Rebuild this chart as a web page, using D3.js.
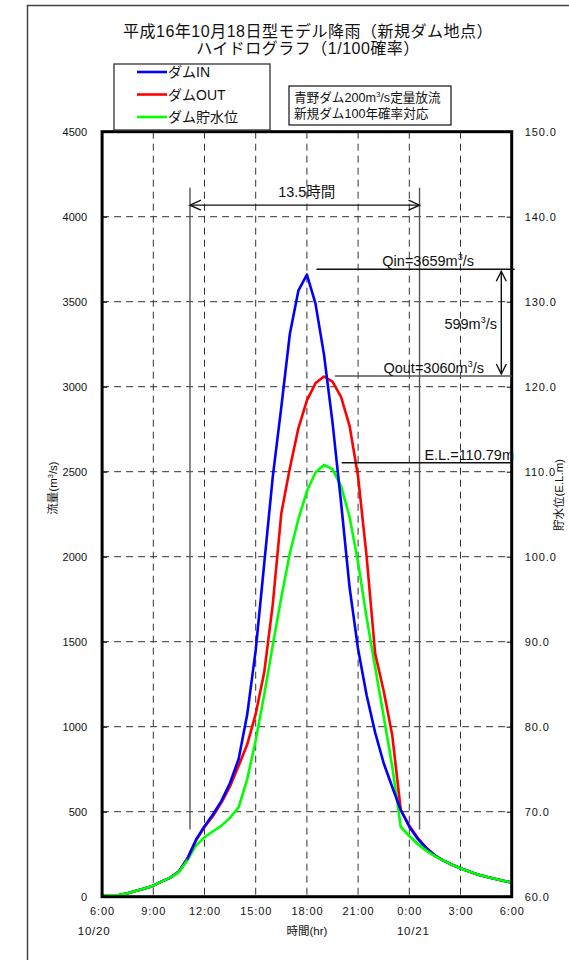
<!DOCTYPE html>
<html><head><meta charset="utf-8">
<script src="https://d3js.org/d3.v7.min.js"></script>
<style>
html,body{margin:0;padding:0;background:#fff;}
svg{display:block;}
text{font-family:"Liberation Sans",Arial,"Noto Sans CJK JP",sans-serif;fill:#111;}
</style></head><body>
<svg id="c" width="569" height="960"></svg>
<script>
// ---- data ----
const hours = [0,0.5,1,1.5,2,2.5,3,3.5,4,4.5,5,5.5,6,6.5,7,7.5,8,8.5,9,9.5,10,10.5,11,11.5,12,12.5,13,13.5,14,14.5,15,15.5,16,16.5,17,17.5,18,18.5,19,19.5,20,20.5,21,21.5,22,22.5,23,23.5,24];
const inflow = [8,8,10,20,35,48,65,90,112,148,225,335,415,485,565,670,810,1070,1450,1960,2470,2880,3310,3565,3659,3490,3190,2790,2320,1820,1455,1185,965,785,645,510,412,340,285,242,212,188,167,148,131,118,106,94,83];
const outflow = [8,8,10,20,35,48,65,90,112,148,225,330,410,475,555,650,770,895,1075,1320,1720,2255,2520,2755,2920,3020,3060,3030,2940,2770,2470,2000,1430,1210,950,510,418,345,288,243,212,188,167,148,131,118,106,94,83];
const level = [60.16,60.16,60.2,60.4,60.7,60.96,61.3,61.8,62.24,62.9,64.3,66.0,67.0,67.7,68.36,69.3,70.5,73.8,78.4,83.8,89.6,95.2,100.4,104.4,107.7,109.9,110.79,110.3,108.3,104.7,99.3,92.8,87.0,81.2,75.3,68.2,67.14,66.2,65.42,64.78,64.24,63.76,63.34,62.96,62.62,62.36,62.12,61.88,61.66];
const timeTicks = [0,3,6,9,12,15,18,21,24];
const timeTickLabels = ["6:00","9:00","12:00","15:00","18:00","21:00","0:00","3:00","6:00"];
const dateHours = [0,18];
const dateLabels = ["10/20","10/21"];
const flowTicks = [0,500,1000,1500,2000,2500,3000,3500,4000,4500];
const levelTicks = [60,70,80,90,100,110,120,130,140,150];
const seriesNames = ["ダムIN","ダムOUT","ダム貯水位"];
const seriesColors = ["#0000ff","#ff0000","#00ff00"];
const titleLines = ["平成16年10月18日型モデル降雨（新規ダム地点）","ハイドログラフ（1/100確率）"];
const noteLines = [[["青野ダム200m",0],["3",1],["/s定量放流",0]],[["新規ダム100年確率対応",0]]];
// annotation values
const spanHours = [5.15, 18.6];
const qinPeak = 3659, qoutPeak = 3060, elPeak = 110.79, diffQ = 599;

// ---- layout ----
const svg = d3.select("#c");
const L = 102.1, R = 511.7, T = 131.7, B = 896.7;
const x = d3.scaleLinear().domain([0,24]).range([L,R]);
const y = d3.scaleLinear().domain([0,4500]).range([B,T]);
const yR = d3.scaleLinear().domain([60,150]).range([B,T]);

// outer frame
svg.append("path").attr("d","M27.5,960 L27.5,5.5 L569,5.5").attr("fill","none").attr("stroke","#444").attr("stroke-width",1.5);

// title
svg.append("g").selectAll("text").data(titleLines).join("text")
  .attr("x",308).attr("y",(d,i)=>37+i*17).attr("text-anchor","middle")
  .attr("font-size",16).attr("letter-spacing","0.5px").attr("font-family","'Noto Sans CJK JP',sans-serif").text(d=>d);

// grid
const grid = svg.append("g").attr("stroke","#333").attr("stroke-width",1).attr("stroke-dasharray","7,5");
grid.selectAll("line.h").data(flowTicks.filter(v=>v>0&&v<4500)).join("line")
  .attr("x1",L).attr("x2",R).attr("y1",d=>y(d)).attr("y2",d=>y(d));
grid.selectAll("line.v").data(timeTicks.filter(v=>v>0&&v<24)).join("line")
  .attr("y1",T).attr("y2",B).attr("x1",d=>x(d)).attr("x2",d=>x(d));

// axes
const axL = svg.append("g").attr("transform",`translate(${L},0)`)
  .call(d3.axisLeft(y).tickValues(flowTicks).tickSize(-5).tickPadding(15).tickFormat(d3.format("d")));
const axR = svg.append("g").attr("transform",`translate(${R},0)`)
  .call(d3.axisRight(yR).tickValues(levelTicks).tickSize(-5).tickPadding(13).tickFormat(d3.format(".1f")));
const axB = svg.append("g").attr("transform",`translate(0,${B})`)
  .call(d3.axisBottom(x).tickValues(timeTicks).tickSize(0).tickPadding(11).tickFormat((d,i)=>timeTickLabels[i]));
[axL,axR,axB].forEach(a=>{a.select(".domain").remove();a.selectAll("text").attr("font-size",11).attr("fill","#222").attr("font-family","'Liberation Sans',Arial,sans-serif");a.selectAll("line").attr("stroke","#000");});
axR.selectAll("text").attr("letter-spacing","0.9px");
axB.selectAll("text").attr("letter-spacing","0.9px");

// date labels
svg.append("g").selectAll("text").data(dateLabels).join("text")
  .attr("x",(d,i)=>x(dateHours[i])+(i===0?-8:4)).attr("y",935).attr("text-anchor","middle")
  .attr("font-size",11.5).attr("letter-spacing","0.8px").attr("fill","#222").text(d=>d);
svg.append("text").attr("x",x(12)).attr("y",935).attr("text-anchor","middle").attr("font-size",11.5).attr("fill","#222")
  .attr("font-family","'Noto Sans CJK JP',sans-serif").text("時間(hr)");

// axis titles
const lt = svg.append("text").attr("transform","translate(57,488) rotate(-90)").attr("text-anchor","middle").attr("font-size",11.5).attr("fill","#222").attr("font-family","'Noto Sans CJK JP',sans-serif");
lt.append("tspan").text("流量(m");
lt.append("tspan").attr("dy",-4).attr("font-size",7.5).text("3");
lt.append("tspan").attr("dy",4).text("/s)");
svg.append("text").attr("transform","translate(563,495) rotate(-90)").attr("text-anchor","middle").attr("font-size",11.5).attr("fill","#222")
  .attr("font-family","'Noto Sans CJK JP',sans-serif").text("貯水位(E.L.m)");

// series
const lineFlow = d3.line().x((d,i)=>x(hours[i])).y(d=>y(d));
const lineLevel = d3.line().x((d,i)=>x(hours[i])).y(d=>yR(d));
svg.append("path").datum(level).attr("d",lineLevel).attr("fill","none").attr("stroke",seriesColors[2]).attr("stroke-width",2.6).attr("stroke-linejoin","round");
svg.append("path").datum(outflow).attr("d",lineFlow).attr("fill","none").attr("stroke",seriesColors[1]).attr("stroke-width",2.6).attr("stroke-linejoin","round");
svg.append("path").datum(inflow).attr("d",lineFlow).attr("fill","none").attr("stroke",seriesColors[0]).attr("stroke-width",2.6).attr("stroke-linejoin","round");
const defs = svg.append("defs");
const cp = defs.append("clipPath").attr("id","tails");
cp.append("rect").attr("x",x(0)).attr("y",T).attr("width",x(5)-x(0)).attr("height",B-T);
cp.append("rect").attr("x",x(18.2)).attr("y",T).attr("width",x(24)-x(18.2)+3).attr("height",B-T);
svg.append("path").datum(level).attr("d",lineLevel).attr("fill","none").attr("stroke",seriesColors[2]).attr("stroke-width",2.6).attr("stroke-linejoin","round")
  .attr("clip-path","url(#tails)");

// plot frame
svg.append("rect").attr("x",L).attr("y",T).attr("width",R-L).attr("height",B-T).attr("fill","none").attr("stroke","#000").attr("stroke-width",3);

// annotations
const ann = svg.append("g").attr("stroke","#555").attr("stroke-width",1.4).attr("fill","none");
spanHours.forEach(h=>{ann.append("line").attr("x1",x(h)).attr("x2",x(h)).attr("y1",y(4170)).attr("y2",y(395));});
const ay = y(4068);
ann.append("line").attr("x1",x(spanHours[0])).attr("x2",x(spanHours[1])).attr("y1",ay).attr("y2",ay).attr("stroke","#111");
ann.append("path").attr("d",`M${x(spanHours[0])+11},${ay-5} L${x(spanHours[0])},${ay} L${x(spanHours[0])+11},${ay+5}`).attr("stroke","#111");
ann.append("path").attr("d",`M${x(spanHours[1])-11},${ay-5} L${x(spanHours[1])},${ay} L${x(spanHours[1])-11},${ay+5}`).attr("stroke","#111");
svg.append("text").attr("x",(x(spanHours[0])+x(spanHours[1]))/2+2).attr("y",ay-8).attr("text-anchor","middle").attr("font-size",14.5).text("13.5時間");

const yQin = y(qinPeak+32), yQout = y(qoutPeak+3), yEL = yR(elPeak+0.27);
ann.append("line").attr("x1",x(12.56)).attr("x2",R+3).attr("y1",yQin).attr("y2",yQin).attr("stroke","#111");
ann.append("line").attr("x1",x(13.64)).attr("x2",R).attr("y1",yQout).attr("y2",yQout);
ann.append("line").attr("x1",x(14.04)).attr("x2",R).attr("y1",yEL).attr("y2",yEL).attr("stroke","#111");
const ax2 = x(23.39);
ann.append("line").attr("x1",ax2).attr("x2",ax2).attr("y1",yQin+2).attr("y2",yQout-2).attr("stroke","#111");
ann.append("path").attr("d",`M${ax2-5},${yQin+12} L${ax2},${yQin+2} L${ax2+5},${yQin+12}`).attr("stroke","#111");
ann.append("path").attr("d",`M${ax2-5},${yQout-12} L${ax2},${yQout-2} L${ax2+5},${yQout-12}`).attr("stroke","#111");

function supLabel(xp, yp, parts, anchor){
  const t = svg.append("text").attr("x",xp).attr("y",yp).attr("text-anchor",anchor).attr("font-size",14.5);
  parts.forEach(p=>{
    if(p[1]) t.append("tspan").attr("dy",-6).attr("font-size",9).text(p[0]);
    else t.append("tspan").attr("dy",p[2]||0).text(p[0]);
  });
  return t;
}
supLabel(474, yQin-3, [["Qin="+qinPeak+"m",0],["3",1],["/s",0,6]], "end");
supLabel(484, yQout-3, [["Qout="+qoutPeak+"m",0],["3",1],["/s",0,6]], "end");
supLabel(497, (yQin+yQout)/2+6, [[diffQ+"m",0],["3",1],["/s",0,6]], "end");
svg.append("text").attr("x",514).attr("y",yEL-3).attr("text-anchor","end").attr("font-size",14.5).text("E.L.="+elPeak+"m");

// legend
const lg = svg.append("g");
lg.append("rect").attr("x",114).attr("y",64).attr("width",156).attr("height",66).attr("fill","#fff").attr("stroke","#333").attr("stroke-width",1.3);
seriesNames.forEach((n,i)=>{
  const yy = 72+i*22.5;
  lg.append("line").attr("x1",137).attr("x2",167).attr("y1",yy).attr("y2",yy).attr("stroke",seriesColors[i]).attr("stroke-width",2.6);
  lg.append("text").attr("x",168).attr("y",yy+5).attr("font-size",14).attr("font-family","'Noto Sans CJK JP',sans-serif").text(n);
});

// note box
svg.append("rect").attr("x",289).attr("y",86).attr("width",162).attr("height",39).attr("fill","#fff").attr("stroke","#111").attr("stroke-width",1.2);
noteLines.forEach((ln,i)=>{
  const t = svg.append("text").attr("x",294).attr("y",102+i*16).attr("font-size",12.6).attr("font-family","'Noto Sans CJK JP',sans-serif");
  ln.forEach((p,j)=>{
    if(p[1]) t.append("tspan").attr("dy",-5).attr("font-size",8).text(p[0]);
    else t.append("tspan").attr("dy",j>0?5:0).text(p[0]);
  });
});
</script></body></html>
